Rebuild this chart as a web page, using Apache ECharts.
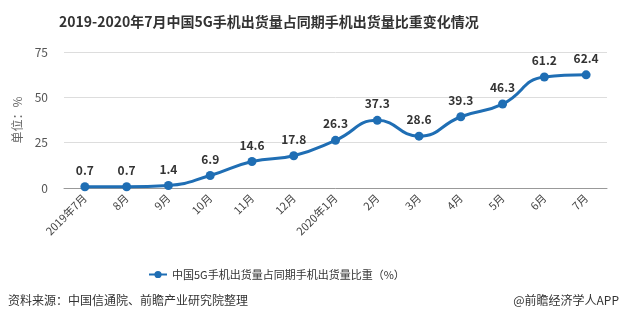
<!DOCTYPE html>
<html><head><meta charset="utf-8">
<script src="https://cdn.jsdelivr.net/npm/echarts@6/dist/echarts.min.js"></script>
<style>html,body{margin:0;padding:0;background:#fff}#c{width:622px;height:324px}</style>
</head><body><div id="c"></div>
<script>
const categories = ['2019年7月','8月','9月','10月','11月','12月','2020年1月','2月','3月','4月','5月','6月','7月'];
const shareValues = [0.7,0.7,1.4,6.9,14.6,17.8,26.3,37.3,28.6,39.3,46.3,61.2,62.4];
const yTicks = {min:0, max:75, interval:25};
const seriesName = '中国5G手机出货量占同期手机出货量比重（%）';

const chart = echarts.init(document.getElementById('c'));
const font = '"Microsoft YaHei","Noto Sans CJK SC",sans-serif';
chart.setOption({
  animation:false,
  textStyle:{fontFamily:font},
  title:{text:'2019-2020年7月中国5G手机出货量占同期手机出货量比重变化情况', left:54, top:10,
    textStyle:{fontSize:14, fontWeight:'bold', color:'#333', fontFamily:font}},
  graphic:[
    {type:'text', left:8, top:294, style:{text:'资料来源：中国信通院、前瞻产业研究院整理', fontSize:12, fill:'#333', fontFamily:font}},
    {type:'text', right:3, top:294, style:{text:'@前瞻经济学人APP', fontSize:12, fill:'#333', fontFamily:font}}
  ],
  legend:{left:143, top:264, itemWidth:18, itemHeight:9, itemGap:6, data:[seriesName],
    textStyle:{fontSize:11, color:'#333', fontFamily:font}},
  grid:{left:64, right:15, top:52, bottom:136},
  xAxis:{type:'category', data:categories, boundaryGap:true,
    axisLine:{lineStyle:{color:'#999'}},
    axisTick:{alignWithLabel:true, lineStyle:{color:'#999'}},
    axisLabel:{rotate:45, fontSize:11, color:'#444', margin:8, interval:0}},
  yAxis:{type:'value', min:yTicks.min, max:yTicks.max, interval:yTicks.interval,
    name:'单位：%', nameLocation:'middle', nameGap:36, nameRotate:90,
    nameTextStyle:{color:'#666', fontSize:12},
    axisLine:{show:false}, axisTick:{show:false},
    axisLabel:{color:'#555', fontSize:12, margin:16},
    splitLine:{lineStyle:{color:'#ddd'}}},
  series:[{name:seriesName, type:'line', smooth:true, data:shareValues,
    symbol:'circle', symbolSize:9,
    itemStyle:{color:'#1f6eb4'}, lineStyle:{color:'#1f6eb4', width:3},
    label:{show:true, position:'top', fontWeight:'bold', fontSize:12, color:'#333', distance:6}}]
});
</script></body></html>
